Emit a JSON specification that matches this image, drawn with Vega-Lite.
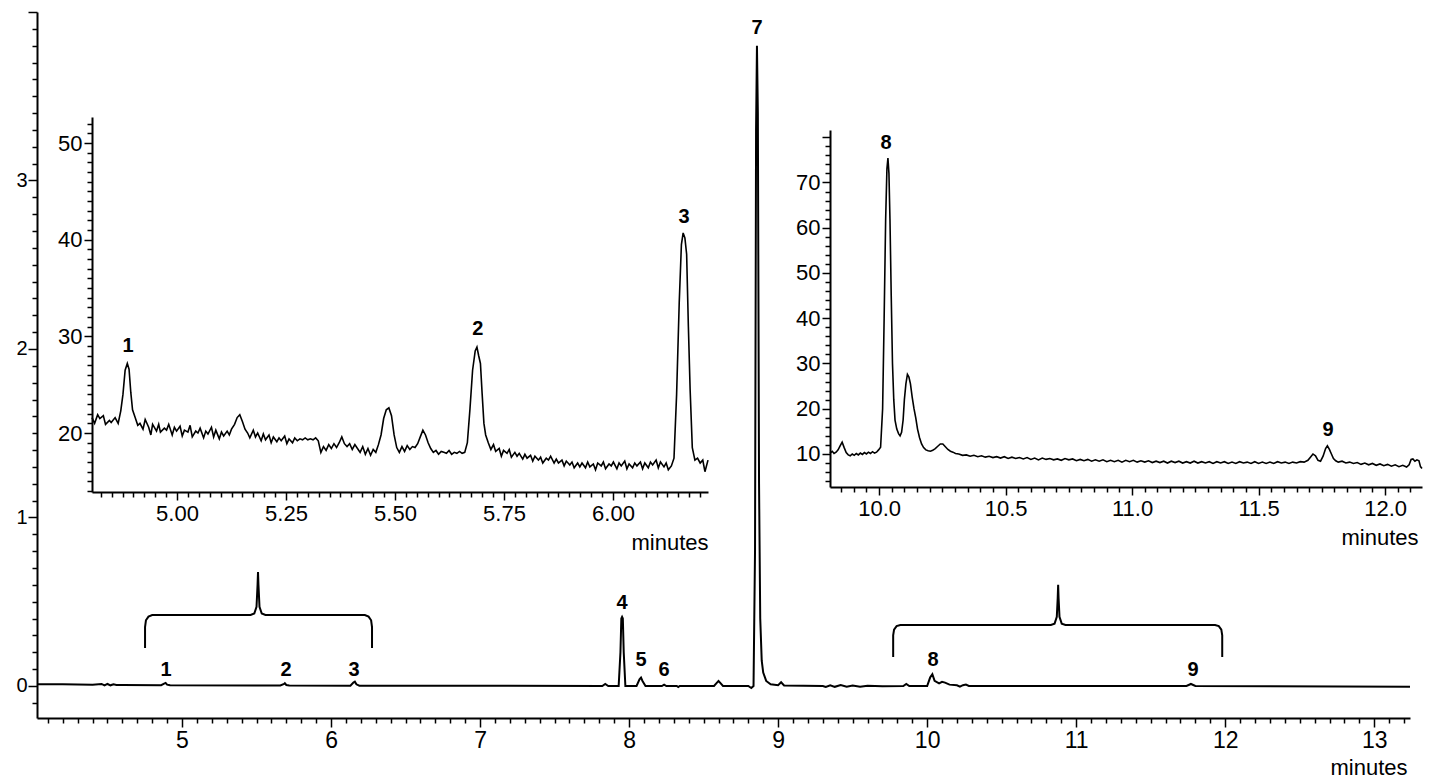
{
"$schema": "https://vega.github.io/schema/vega-lite/v6.json",
"width": 1373, "height": 706,
"autosize": {"type": "none"},
"padding": {"left": 37, "top": 12, "right": 20, "bottom": 63},
"background": "white",
"config": {
  "view": {"stroke": null},
  "axis": {"grid": false, "domainColor": "black", "domainWidth": 2, "tickColor": "black", "tickWidth": 1.5,
    "labelColor": "black", "labelFont": "Liberation Sans Narrow, Arial Narrow, Liberation Sans, sans-serif",
    "titleFont": "Liberation Sans Narrow, Arial Narrow, Liberation Sans, sans-serif", "titleColor": "black",
    "titleFontWeight": "normal", "labelOverlap": false, "labelFlush": false, "labelBound": false},
  "text": {"font": "Liberation Sans Narrow, Arial Narrow, Liberation Sans, sans-serif"}
},
"datasets": {
  "main": [
    {"t":4.03,"v":0.01},{"t":4.2,"v":0.01},{"t":4.4,"v":0.008},{"t":4.46,"v":0.012},{"t":4.48,"v":0.003},{"t":4.5,"v":0.012},{"t":4.52,"v":0.004},{"t":4.54,"v":0.01},{"t":4.56,"v":0.006},{"t":4.6,"v":0.006},
    {"t":4.86,"v":0.005},{"t":4.88,"v":0.014},{"t":4.89,"v":0.018},{"t":4.9,"v":0.008},{"t":4.92,"v":0.004},
    {"t":5.66,"v":0.003},{"t":5.685,"v":0.012},{"t":5.69,"v":0.016},{"t":5.7,"v":0.006},{"t":5.72,"v":0.003},
    {"t":6.13,"v":0.002},{"t":6.15,"v":0.02},{"t":6.16,"v":0.026},{"t":6.17,"v":0.01},{"t":6.19,"v":0.002},
    {"t":7.82,"v":0.0},{"t":7.84,"v":0.012},{"t":7.86,"v":0.0},{"t":7.93,"v":0.0},{"t":7.942,"v":0.2},{"t":7.948,"v":0.4},{"t":7.953,"v":0.41},{"t":7.958,"v":0.4},{"t":7.964,"v":0.2},{"t":7.975,"v":0.0},
    {"t":8.05,"v":0.0},{"t":8.07,"v":0.04},{"t":8.08,"v":0.05},{"t":8.09,"v":0.03},{"t":8.11,"v":0.0},
    {"t":8.22,"v":0.0},{"t":8.235,"v":0.008},{"t":8.25,"v":0.0},{"t":8.32,"v":0.0},{"t":8.33,"v":-0.006},{"t":8.34,"v":0.0},
    {"t":8.57,"v":0.0},{"t":8.6,"v":0.03},{"t":8.63,"v":0.0},
    {"t":8.8,"v":0.0},{"t":8.82,"v":-0.012},{"t":8.835,"v":0.0},{"t":8.845,"v":0.8},{"t":8.852,"v":3.3},{"t":8.858,"v":3.8},{"t":8.864,"v":3.4},{"t":8.872,"v":1.2},{"t":8.88,"v":0.4},{"t":8.89,"v":0.15},{"t":8.9,"v":0.08},{"t":8.92,"v":0.03},{"t":8.95,"v":0.01},{"t":9.0,"v":0.005},{"t":9.02,"v":0.022},{"t":9.04,"v":0.003},
    {"t":9.3,"v":0.0},{"t":9.32,"v":-0.006},{"t":9.35,"v":0.004},{"t":9.38,"v":-0.005},{"t":9.42,"v":0.006},{"t":9.46,"v":-0.004},{"t":9.5,"v":0.003},{"t":9.55,"v":-0.005},{"t":9.6,"v":0.002},{"t":9.7,"v":-0.002},
    {"t":9.84,"v":0.0},{"t":9.86,"v":0.012},{"t":9.88,"v":0.0},{"t":10.0,"v":0.0},{"t":10.02,"v":0.05},{"t":10.035,"v":0.07},{"t":10.05,"v":0.03},{"t":10.08,"v":0.015},{"t":10.1,"v":0.025},{"t":10.12,"v":0.02},{"t":10.15,"v":0.008},{"t":10.2,"v":0.004},{"t":10.22,"v":-0.004},{"t":10.24,"v":0.005},{"t":10.26,"v":0.008},{"t":10.28,"v":0.0},
    {"t":11.74,"v":0.0},{"t":11.77,"v":0.012},{"t":11.8,"v":0.0},{"t":13.24,"v":-0.005}
  ],
  "brackets": [
    {"g":1,"o":1,"t":4.752,"v":0.225},{"g":1,"o":2,"t":4.752,"v":0.35},{"g":1,"o":3,"t":4.758,"v":0.39},{"g":1,"o":4,"t":4.775,"v":0.412},{"g":1,"o":5,"t":4.8,"v":0.421},{"g":1,"o":6,"t":5.46,"v":0.421},{"g":1,"o":7,"t":5.485,"v":0.43},{"g":1,"o":8,"t":5.5,"v":0.47},{"g":1,"o":9,"t":5.507,"v":0.6},{"g":1,"o":10,"t":5.51,"v":0.677},{"g":1,"o":11,"t":5.513,"v":0.6},{"g":1,"o":12,"t":5.52,"v":0.47},{"g":1,"o":13,"t":5.535,"v":0.43},{"g":1,"o":14,"t":5.56,"v":0.421},{"g":1,"o":15,"t":6.227,"v":0.421},{"g":1,"o":16,"t":6.252,"v":0.412},{"g":1,"o":17,"t":6.269,"v":0.39},{"g":1,"o":18,"t":6.275,"v":0.35},{"g":1,"o":19,"t":6.275,"v":0.225},
    {"g":2,"o":1,"t":9.772,"v":0.172},{"g":2,"o":2,"t":9.772,"v":0.3},{"g":2,"o":3,"t":9.778,"v":0.335},{"g":2,"o":4,"t":9.795,"v":0.355},{"g":2,"o":5,"t":9.82,"v":0.362},{"g":2,"o":6,"t":10.83,"v":0.362},{"g":2,"o":7,"t":10.855,"v":0.37},{"g":2,"o":8,"t":10.87,"v":0.41},{"g":2,"o":9,"t":10.876,"v":0.52},{"g":2,"o":10,"t":10.879,"v":0.6},{"g":2,"o":11,"t":10.882,"v":0.52},{"g":2,"o":12,"t":10.888,"v":0.41},{"g":2,"o":13,"t":10.903,"v":0.37},{"g":2,"o":14,"t":10.928,"v":0.362},{"g":2,"o":15,"t":11.932,"v":0.362},{"g":2,"o":16,"t":11.957,"v":0.355},{"g":2,"o":17,"t":11.974,"v":0.335},{"g":2,"o":18,"t":11.98,"v":0.3},{"g":2,"o":19,"t":11.98,"v":0.172}
  ],
  "mainLabels": [
    {"t":4.893,"v":0.036,"lab":"1"},{"t":5.698,"v":0.036,"lab":"2"},{"t":6.154,"v":0.036,"lab":"3"},{"t":7.953,"v":0.433,"lab":"4"},{"t":8.08,"v":0.095,"lab":"5"},{"t":8.235,"v":0.036,"lab":"6"},{"t":8.859,"v":3.846,"lab":"7"},{"t":10.04,"v":0.095,"lab":"8"},{"t":11.785,"v":0.036,"lab":"9"}
  ],
  "inset1": [
    {"t":4.805,"v":21.6},{"t":4.811,"v":21.0},{"t":4.818,"v":21.9},{"t":4.823,"v":21.5},{"t":4.831,"v":21.8},{"t":4.836,"v":20.9},{"t":4.845,"v":21.3},{"t":4.849,"v":21.1},{"t":4.858,"v":21.6},{"t":4.865,"v":21.0},
    {"t":4.871,"v":22.3},{"t":4.876,"v":24.0},{"t":4.881,"v":26.5},{"t":4.886,"v":27.2},{"t":4.89,"v":26.6},{"t":4.894,"v":24.2},{"t":4.898,"v":22.4},{"t":4.904,"v":21.6},{"t":4.91,"v":20.8},{"t":4.915,"v":21.0},
    {"t":4.922,"v":20.4},{"t":4.927,"v":21.4},{"t":4.935,"v":20.6},{"t":4.94,"v":19.8},{"t":4.944,"v":20.9},{"t":4.953,"v":20.2},{"t":4.958,"v":20.9},{"t":4.962,"v":20.1},{"t":4.971,"v":20.5},{"t":4.976,"v":20.3},
    {"t":4.981,"v":20.9},{"t":4.989,"v":19.8},{"t":4.994,"v":20.6},{"t":4.999,"v":20.2},{"t":5.007,"v":20.7},{"t":5.012,"v":19.7},{"t":5.017,"v":20.3},{"t":5.025,"v":20.1},{"t":5.03,"v":20.8},{"t":5.035,"v":19.6},
    {"t":5.043,"v":20.2},{"t":5.048,"v":20.0},{"t":5.053,"v":20.5},{"t":5.061,"v":19.5},{"t":5.066,"v":20.2},{"t":5.071,"v":19.9},{"t":5.079,"v":20.6},{"t":5.084,"v":19.6},{"t":5.089,"v":20.3},{"t":5.097,"v":19.4},
    {"t":5.102,"v":20.1},{"t":5.107,"v":19.7},{"t":5.115,"v":20.2},{"t":5.12,"v":19.8},{"t":5.125,"v":20.4},{"t":5.132,"v":20.9},{"t":5.138,"v":21.6},{"t":5.144,"v":21.9},{"t":5.15,"v":21.2},{"t":5.156,"v":20.4},
    {"t":5.162,"v":20.0},{"t":5.167,"v":19.5},{"t":5.175,"v":20.3},{"t":5.18,"v":19.6},{"t":5.185,"v":20.0},{"t":5.193,"v":19.2},{"t":5.198,"v":19.9},{"t":5.203,"v":19.3},{"t":5.211,"v":19.8},{"t":5.216,"v":19.0},
    {"t":5.221,"v":19.6},{"t":5.229,"v":19.1},{"t":5.234,"v":19.5},{"t":5.239,"v":19.2},{"t":5.247,"v":19.7},{"t":5.252,"v":18.9},{"t":5.257,"v":19.4},{"t":5.265,"v":19.0},{"t":5.27,"v":19.5},{"t":5.276,"v":19.2},
    {"t":5.282,"v":19.4},{"t":5.288,"v":19.3},{"t":5.294,"v":19.5},{"t":5.3,"v":19.3},{"t":5.306,"v":19.4},{"t":5.312,"v":19.3},{"t":5.318,"v":19.5},{"t":5.324,"v":19.2},{"t":5.33,"v":18.0},{"t":5.336,"v":18.6},
    {"t":5.342,"v":18.2},{"t":5.348,"v":18.8},{"t":5.354,"v":18.4},{"t":5.36,"v":18.9},{"t":5.366,"v":18.5},{"t":5.372,"v":19.0},{"t":5.378,"v":19.6},{"t":5.384,"v":18.9},{"t":5.39,"v":18.6},{"t":5.396,"v":18.9},
    {"t":5.402,"v":18.3},{"t":5.408,"v":18.8},{"t":5.414,"v":18.4},{"t":5.42,"v":18.0},{"t":5.426,"v":18.6},{"t":5.432,"v":17.8},{"t":5.438,"v":18.4},{"t":5.444,"v":17.7},{"t":5.45,"v":18.3},{"t":5.456,"v":18.0},
    {"t":5.462,"v":18.8},{"t":5.468,"v":19.8},{"t":5.474,"v":21.5},{"t":5.48,"v":22.4},{"t":5.486,"v":22.6},{"t":5.492,"v":21.8},{"t":5.498,"v":19.8},{"t":5.504,"v":18.5},{"t":5.51,"v":18.0},{"t":5.516,"v":18.6},
    {"t":5.522,"v":18.1},{"t":5.528,"v":18.7},{"t":5.534,"v":18.3},{"t":5.54,"v":18.6},{"t":5.546,"v":18.5},{"t":5.552,"v":18.9},{"t":5.558,"v":19.6},{"t":5.564,"v":20.3},{"t":5.57,"v":19.8},{"t":5.576,"v":19.0},
    {"t":5.582,"v":18.4},{"t":5.588,"v":18.0},{"t":5.594,"v":18.2},{"t":5.6,"v":17.8},{"t":5.606,"v":18.1},{"t":5.612,"v":18.0},{"t":5.618,"v":17.9},{"t":5.624,"v":18.2},{"t":5.63,"v":17.8},{"t":5.636,"v":18.0},
    {"t":5.642,"v":17.9},{"t":5.648,"v":18.1},{"t":5.654,"v":17.9},{"t":5.66,"v":18.0},{"t":5.666,"v":19.0},{"t":5.672,"v":22.5},{"t":5.678,"v":26.5},{"t":5.684,"v":28.5},{"t":5.688,"v":28.9},{"t":5.692,"v":28.0},
    {"t":5.696,"v":27.2},{"t":5.7,"v":24.0},{"t":5.704,"v":21.0},{"t":5.708,"v":19.8},{"t":5.714,"v":19.0},{"t":5.72,"v":18.3},{"t":5.726,"v":18.8},{"t":5.731,"v":18.1},{"t":5.739,"v":18.4},{"t":5.744,"v":17.6},
    {"t":5.749,"v":18.2},{"t":5.757,"v":17.9},{"t":5.762,"v":18.3},{"t":5.767,"v":17.5},{"t":5.775,"v":18.0},{"t":5.78,"v":17.6},{"t":5.785,"v":17.9},{"t":5.793,"v":17.3},{"t":5.798,"v":17.8},{"t":5.803,"v":17.4},
    {"t":5.811,"v":17.7},{"t":5.816,"v":17.1},{"t":5.821,"v":17.6},{"t":5.829,"v":17.2},{"t":5.834,"v":17.5},{"t":5.839,"v":16.9},{"t":5.847,"v":17.4},{"t":5.852,"v":17.2},{"t":5.857,"v":17.6},{"t":5.865,"v":16.9},
    {"t":5.87,"v":17.3},{"t":5.875,"v":16.9},{"t":5.883,"v":17.2},{"t":5.888,"v":16.6},{"t":5.893,"v":17.1},{"t":5.901,"v":16.7},{"t":5.906,"v":17.0},{"t":5.911,"v":16.4},{"t":5.919,"v":16.9},{"t":5.924,"v":16.5},
    {"t":5.929,"v":16.9},{"t":5.937,"v":16.4},{"t":5.942,"v":17.0},{"t":5.947,"v":16.5},{"t":5.955,"v":16.8},{"t":5.96,"v":16.2},{"t":5.965,"v":16.9},{"t":5.973,"v":16.6},{"t":5.978,"v":17.0},{"t":5.983,"v":16.3},
    {"t":5.991,"v":16.8},{"t":5.996,"v":16.6},{"t":6.001,"v":17.0},{"t":6.009,"v":16.3},{"t":6.014,"v":16.9},{"t":6.019,"v":16.6},{"t":6.027,"v":17.1},{"t":6.032,"v":16.3},{"t":6.037,"v":16.8},{"t":6.045,"v":16.4},
    {"t":6.05,"v":16.9},{"t":6.055,"v":16.6},{"t":6.063,"v":17.0},{"t":6.068,"v":16.3},{"t":6.073,"v":16.9},{"t":6.081,"v":16.4},{"t":6.086,"v":17.0},{"t":6.091,"v":16.7},{"t":6.099,"v":17.2},{"t":6.104,"v":16.4},
    {"t":6.109,"v":17.0},{"t":6.117,"v":16.5},{"t":6.122,"v":16.9},{"t":6.127,"v":16.2},{"t":6.134,"v":16.6},{"t":6.14,"v":17.4},{"t":6.146,"v":24.0},{"t":6.152,"v":33.5},{"t":6.157,"v":39.5},{"t":6.161,"v":40.7},
    {"t":6.165,"v":40.2},{"t":6.169,"v":38.5},{"t":6.173,"v":31.0},{"t":6.177,"v":24.5},{"t":6.182,"v":18.5},{"t":6.188,"v":17.2},{"t":6.194,"v":17.4},{"t":6.2,"v":16.9},{"t":6.206,"v":17.2},{"t":6.211,"v":16.0},{"t":6.218,"v":17.2}
  ],
  "inset1Labels": [
    {"t":4.888,"v":28.0,"lab":"1"},{"t":5.69,"v":29.7,"lab":"2"},{"t":6.163,"v":41.3,"lab":"3"}
  ],
  "inset2": [
    {"t":9.806,"v":10.2},{"t":9.815,"v":10.6},{"t":9.822,"v":10.1},{"t":9.83,"v":10.4},{"t":9.838,"v":10.9},{"t":9.846,"v":11.8},{"t":9.854,"v":12.6},{"t":9.862,"v":11.4},{"t":9.87,"v":10.3},{"t":9.878,"v":9.8},
    {"t":9.886,"v":9.6},{"t":9.894,"v":10.0},{"t":9.902,"v":9.7},{"t":9.91,"v":10.1},{"t":9.918,"v":9.8},{"t":9.926,"v":10.2},{"t":9.934,"v":9.9},{"t":9.942,"v":10.3},{"t":9.95,"v":10.0},{"t":9.958,"v":10.4},
    {"t":9.966,"v":10.1},{"t":9.974,"v":10.5},{"t":9.982,"v":10.2},{"t":9.99,"v":10.4},{"t":9.998,"v":10.9},{"t":10.006,"v":11.5},{"t":10.014,"v":20.0},{"t":10.02,"v":40.0},{"t":10.026,"v":62.0},{"t":10.031,"v":73.0},
    {"t":10.035,"v":75.4},{"t":10.039,"v":72.0},{"t":10.043,"v":62.0},{"t":10.048,"v":45.0},{"t":10.053,"v":30.0},{"t":10.058,"v":22.0},{"t":10.063,"v":17.5},{"t":10.07,"v":15.5},{"t":10.077,"v":14.5},{"t":10.083,"v":14.0},
    {"t":10.089,"v":14.8},{"t":10.095,"v":17.5},{"t":10.1,"v":22.0},{"t":10.106,"v":25.5},{"t":10.112,"v":27.6},{"t":10.118,"v":27.0},{"t":10.124,"v":25.5},{"t":10.131,"v":22.5},{"t":10.138,"v":20.0},{"t":10.145,"v":18.0},
    {"t":10.152,"v":15.5},{"t":10.16,"v":13.6},{"t":10.168,"v":12.2},{"t":10.176,"v":11.4},{"t":10.185,"v":10.9},{"t":10.194,"v":10.7},{"t":10.203,"v":10.6},{"t":10.212,"v":10.8},{"t":10.222,"v":11.2},{"t":10.232,"v":11.7},
    {"t":10.242,"v":12.2},{"t":10.252,"v":12.2},{"t":10.262,"v":11.6},{"t":10.272,"v":11.0},{"t":10.282,"v":10.6},{"t":10.292,"v":10.4},{"t":10.302,"v":10.1},{"t":10.315,"v":10.0},{"t":10.33,"v":9.7},{"t":10.345,"v":9.8},
    {"t":10.36,"v":9.5},{"t":10.375,"v":9.7},{"t":10.39,"v":9.4},{"t":10.405,"v":9.6},{"t":10.42,"v":9.3},{"t":10.435,"v":9.5},{"t":10.45,"v":9.2},{"t":10.465,"v":9.4},{"t":10.48,"v":9.1},{"t":10.495,"v":9.4},
    {"t":10.51,"v":9.0},{"t":10.525,"v":9.3},{"t":10.54,"v":9.0},{"t":10.555,"v":9.2},{"t":10.57,"v":8.9},{"t":10.585,"v":9.2},{"t":10.6,"v":8.8},{"t":10.615,"v":9.1},{"t":10.63,"v":8.7},{"t":10.645,"v":9.1},
    {"t":10.66,"v":8.8},{"t":10.675,"v":9.0},{"t":10.69,"v":8.7},{"t":10.705,"v":8.9},{"t":10.72,"v":8.6},{"t":10.735,"v":9.0},{"t":10.75,"v":8.7},{"t":10.765,"v":8.9},{"t":10.78,"v":8.5},{"t":10.795,"v":8.8},
    {"t":10.81,"v":8.5},{"t":10.825,"v":8.8},{"t":10.84,"v":8.4},{"t":10.855,"v":8.7},{"t":10.87,"v":8.4},{"t":10.885,"v":8.7},{"t":10.9,"v":8.3},{"t":10.915,"v":8.6},{"t":10.93,"v":8.3},{"t":10.945,"v":8.6},
    {"t":10.96,"v":8.2},{"t":10.975,"v":8.6},{"t":10.99,"v":8.3},{"t":11.005,"v":8.6},{"t":11.02,"v":8.2},{"t":11.035,"v":8.5},{"t":11.05,"v":8.2},{"t":11.065,"v":8.5},{"t":11.08,"v":8.1},{"t":11.095,"v":8.4},
    {"t":11.11,"v":8.1},{"t":11.125,"v":8.4},{"t":11.14,"v":8.0},{"t":11.155,"v":8.4},{"t":11.17,"v":8.1},{"t":11.185,"v":8.4},{"t":11.2,"v":8.0},{"t":11.215,"v":8.3},{"t":11.23,"v":8.0},{"t":11.245,"v":8.4},
    {"t":11.26,"v":8.0},{"t":11.275,"v":8.3},{"t":11.29,"v":8.0},{"t":11.305,"v":8.3},{"t":11.32,"v":7.9},{"t":11.335,"v":8.3},{"t":11.35,"v":8.0},{"t":11.365,"v":8.3},{"t":11.38,"v":7.9},{"t":11.395,"v":8.2},
    {"t":11.41,"v":7.9},{"t":11.425,"v":8.3},{"t":11.44,"v":8.0},{"t":11.455,"v":8.2},{"t":11.47,"v":7.9},{"t":11.485,"v":8.3},{"t":11.5,"v":7.9},{"t":11.515,"v":8.2},{"t":11.53,"v":7.9},{"t":11.545,"v":8.2},
    {"t":11.56,"v":7.9},{"t":11.575,"v":8.3},{"t":11.59,"v":8.0},{"t":11.605,"v":8.2},{"t":11.62,"v":7.9},{"t":11.635,"v":8.2},{"t":11.65,"v":8.0},{"t":11.665,"v":8.3},{"t":11.68,"v":8.2},{"t":11.695,"v":8.6},
    {"t":11.705,"v":9.3},{"t":11.715,"v":10.0},{"t":11.725,"v":9.6},{"t":11.735,"v":8.6},{"t":11.745,"v":8.4},{"t":11.755,"v":9.5},{"t":11.765,"v":11.2},{"t":11.772,"v":11.8},{"t":11.78,"v":11.0},{"t":11.788,"v":10.0},
    {"t":11.796,"v":9.0},{"t":11.805,"v":8.5},{"t":11.815,"v":8.2},{"t":11.83,"v":8.4},{"t":11.845,"v":8.0},{"t":11.86,"v":8.2},{"t":11.875,"v":7.9},{"t":11.89,"v":8.1},{"t":11.905,"v":7.7},{"t":11.92,"v":8.0},
    {"t":11.935,"v":7.6},{"t":11.95,"v":7.9},{"t":11.965,"v":7.5},{"t":11.98,"v":7.8},{"t":11.995,"v":7.4},{"t":12.01,"v":7.7},{"t":12.025,"v":7.3},{"t":12.04,"v":7.6},{"t":12.055,"v":7.2},{"t":12.07,"v":7.5},
    {"t":12.085,"v":7.1},{"t":12.095,"v":7.6},{"t":12.103,"v":8.8},{"t":12.11,"v":8.9},{"t":12.118,"v":8.4},{"t":12.126,"v":8.7},{"t":12.134,"v":8.5},{"t":12.14,"v":7.2},{"t":12.146,"v":6.8}
  ],
  "inset2Labels": [
    {"t":10.028,"v":76.5,"lab":"8"},{"t":11.775,"v":13.1,"lab":"9"}
  ]
},
"layer": [
  {
    "encoding": {
      "x": {"field": "t", "type": "quantitative", "scale": {"domain": [4.027, 13.24], "nice": false, "zero": false},
        "axis": {"orient": "bottom", "title": "minutes", "titleX": 1370, "titleY": 56, "titleAlign": "right", "titleBaseline": "alphabetic", "titleFontSize": 22,
          "values": [4.1,4.2,4.3,4.4,4.5,4.6,4.7,4.8,4.9,5,5.1,5.2,5.3,5.4,5.5,5.6,5.7,5.8,5.9,6,6.1,6.2,6.3,6.4,6.5,6.6,6.7,6.8,6.9,7,7.1,7.2,7.3,7.4,7.5,7.6,7.7,7.8,7.9,8,8.1,8.2,8.3,8.4,8.5,8.6,8.7,8.8,8.9,9,9.1,9.2,9.3,9.4,9.5,9.6,9.7,9.8,9.9,10,10.1,10.2,10.3,10.4,10.5,10.6,10.7,10.8,10.9,11,11.1,11.2,11.3,11.4,11.5,11.6,11.7,11.8,11.9,12,12.1,12.2,12.3,12.4,12.5,12.6,12.7,12.8,12.9,13,13.1,13.2],
          "labelExpr": "abs(datum.value - round(datum.value)) < 0.001 ? format(datum.value, 'd') : ''",
          "tickSize": {"condition": {"test": "abs(datum.value - round(datum.value)) < 0.001", "value": 9}, "value": 5},
          "labelFontSize": 23, "labelPadding": 2}},
      "y": {"field": "v", "type": "quantitative", "scale": {"domain": [-0.19, 4.0], "nice": false, "zero": false},
        "axis": {"orient": "left", "title": null,
          "values": [-0.1,0,0.1,0.2,0.3,0.4,0.5,0.6,0.7,0.8,0.9,1,1.1,1.2,1.3,1.4,1.5,1.6,1.7,1.8,1.9,2,2.1,2.2,2.3,2.4,2.5,2.6,2.7,2.8,2.9,3,3.1,3.2,3.3,3.4,3.5,3.6,3.7,3.8,3.9,4],
          "labelExpr": "abs(datum.value - round(datum.value)) < 0.001 && datum.value < 3.5 ? format(datum.value, 'd') : ''",
          "tickSize": {"condition": {"test": "abs(datum.value - round(datum.value)) < 0.001", "value": 9}, "value": 5},
          "labelFontSize": 20, "labelPadding": 1}}
    },
    "layer": [
      {"data": {"name": "main"}, "mark": {"type": "line", "color": "black", "strokeWidth": 2}},
      {"data": {"name": "brackets"}, "mark": {"type": "line", "color": "black", "strokeWidth": 2},
        "encoding": {"detail": {"field": "g", "type": "nominal"}, "order": {"field": "o", "type": "quantitative"}}},
      {"data": {"name": "mainLabels"}, "mark": {"type": "text", "baseline": "bottom", "align": "center", "fontSize": 20, "fontWeight": "bold", "color": "black"},
        "encoding": {"text": {"field": "lab", "type": "nominal"}}}
    ]
  },
  {
    "encoding": {
      "x": {"field": "t", "type": "quantitative", "scale": {"domain": [4.805, 6.218], "range": [55, 671], "nice": false, "zero": false},
        "axis": {"orient": "bottom", "offset": -226, "title": "minutes", "titleX": 671, "titleY": 57, "titleAlign": "right", "titleBaseline": "alphabetic", "titleFontSize": 22,
          "values": [4.825,4.85,4.875,4.9,4.925,4.95,4.975,5,5.025,5.05,5.075,5.1,5.125,5.15,5.175,5.2,5.225,5.25,5.275,5.3,5.325,5.35,5.375,5.4,5.425,5.45,5.475,5.5,5.525,5.55,5.575,5.6,5.625,5.65,5.675,5.7,5.725,5.75,5.775,5.8,5.825,5.85,5.875,5.9,5.925,5.95,5.975,6,6.025,6.05,6.075,6.1,6.125,6.15,6.175,6.2],
          "labelExpr": "abs(datum.value * 4 - round(datum.value * 4)) < 0.001 ? format(datum.value, '.2f') : ''",
          "tickSize": {"condition": {"test": "abs(datum.value * 4 - round(datum.value * 4)) < 0.001", "value": 8}, "value": 5},
          "labelFontSize": 22, "labelPadding": 3}},
      "y": {"field": "v", "type": "quantitative", "scale": {"domain": [13.9, 52.7], "range": [480, 105], "nice": false, "zero": false},
        "axis": {"orient": "left", "offset": -55, "title": null,
          "values": [14,15,16,17,18,19,20,21,22,23,24,25,26,27,28,29,30,31,32,33,34,35,36,37,38,39,40,41,42,43,44,45,46,47,48,49,50,51,52],
          "labelExpr": "datum.value % 10 === 0 ? format(datum.value, 'd') : ''",
          "tickSize": {"condition": {"test": "datum.value % 10 === 0", "value": 8}, "value": 5},
          "labelFontSize": 22, "labelPadding": 2}}
    },
    "layer": [
      {"data": {"name": "inset1"}, "mark": {"type": "line", "color": "black", "strokeWidth": 1.6}},
      {"data": {"name": "inset1Labels"}, "mark": {"type": "text", "baseline": "bottom", "align": "center", "fontSize": 20, "fontWeight": "bold", "color": "black"},
        "encoding": {"text": {"field": "lab", "type": "nominal"}}}
    ]
  },
  {
    "encoding": {
      "x": {"field": "t", "type": "quantitative", "scale": {"domain": [9.806, 12.146], "range": [793, 1385], "nice": false, "zero": false},
        "axis": {"orient": "bottom", "offset": -231, "title": "minutes", "titleX": 1381, "titleY": 57, "titleAlign": "right", "titleBaseline": "alphabetic", "titleFontSize": 22,
          "values": [9.85,9.9,9.95,10,10.05,10.1,10.15,10.2,10.25,10.3,10.35,10.4,10.45,10.5,10.55,10.6,10.65,10.7,10.75,10.8,10.85,10.9,10.95,11,11.05,11.1,11.15,11.2,11.25,11.3,11.35,11.4,11.45,11.5,11.55,11.6,11.65,11.7,11.75,11.8,11.85,11.9,11.95,12,12.05,12.1],
          "labelExpr": "abs(datum.value * 2 - round(datum.value * 2)) < 0.001 ? format(datum.value, '.1f') : ''",
          "tickSize": {"condition": {"test": "abs(datum.value * 2 - round(datum.value * 2)) < 0.001", "value": 8}, "value": 5},
          "labelFontSize": 22, "labelPadding": 3}},
      "y": {"field": "v", "type": "quantitative", "scale": {"domain": [2.7, 81.6], "range": [475, 118], "nice": false, "zero": false},
        "axis": {"orient": "left", "offset": -793, "title": null,
          "values": [4,6,8,10,12,14,16,18,20,22,24,26,28,30,32,34,36,38,40,42,44,46,48,50,52,54,56,58,60,62,64,66,68,70,72,74,76,78,80],
          "labelExpr": "datum.value % 10 === 0 && datum.value < 75 ? format(datum.value, 'd') : ''",
          "tickSize": {"condition": {"test": "datum.value % 10 === 0", "value": 8}, "value": 5},
          "labelFontSize": 22, "labelPadding": 2}}
    },
    "layer": [
      {"data": {"name": "inset2"}, "mark": {"type": "line", "color": "black", "strokeWidth": 1.6}},
      {"data": {"name": "inset2Labels"}, "mark": {"type": "text", "baseline": "bottom", "align": "center", "fontSize": 20, "fontWeight": "bold", "color": "black"},
        "encoding": {"text": {"field": "lab", "type": "nominal"}}}
    ]
  }
],
"resolve": {"scale": {"x": "independent", "y": "independent"}, "axis": {"x": "independent", "y": "independent"}}
}
